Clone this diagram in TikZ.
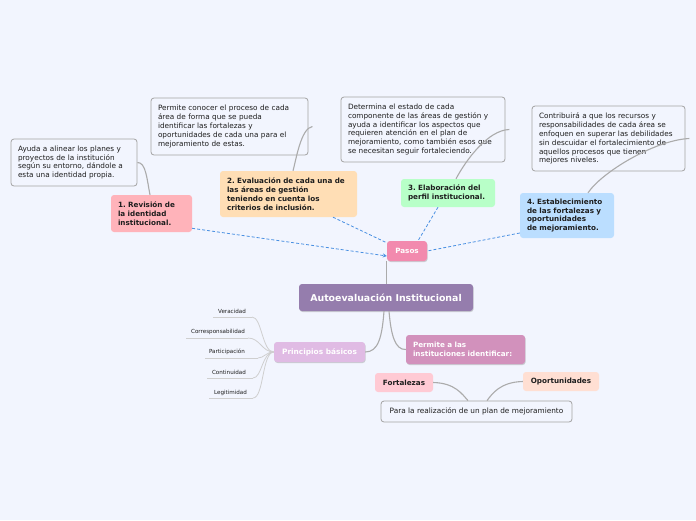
\documentclass[tikz,border=0pt]{standalone}
\usepackage{fontspec}
\setmainfont{DejaVu Sans}
\usetikzlibrary{calc,shadows,arrows.meta}
\frenchspacing
\definecolor{bg}{HTML}{F2F5FE}
\definecolor{txt}{HTML}{1E1E1E}
\definecolor{bord}{HTML}{A3A3A3}
\definecolor{link}{HTML}{ABABAB}
\definecolor{leafl}{HTML}{CFCFCF}
\definecolor{dash}{HTML}{4A90E2}
\definecolor{cone}{HTML}{FFB3BA}
\definecolor{ctwo}{HTML}{FFDEB5}
\definecolor{cthree}{HTML}{B8FFC8}
\definecolor{cfour}{HTML}{BBDEFF}
\definecolor{cpasos}{HTML}{F28AAE}
\definecolor{cauto}{HTML}{957DAD}
\definecolor{cprinc}{HTML}{E0BBE4}
\definecolor{cperm}{HTML}{D291BC}
\definecolor{cfort}{HTML}{FFCAD4}
\definecolor{coport}{HTML}{FFDFD3}
\tikzset{
  textbox/.style={draw=bord, line width=0.8pt, rounded corners=3pt, fill=bg,
    align=left, inner xsep=0pt, inner ysep=0pt, text=txt,
    font=\fontsize{7.3}{8.9}\selectfont},
  topic/.style={rounded corners=3pt, align=left, inner sep=0pt, text=txt,
    font=\fontsize{7.2}{8.9}\selectfont\bfseries},
  main/.style={rounded corners=3pt, align=center, inner sep=0pt, text=white,
    font=\bfseries, drop shadow={opacity=0.35, shadow xshift=0.6pt, shadow yshift=-1pt}},
  leaf/.style={inner sep=0pt, text=txt, font=\fontsize{5.6}{6.5}\selectfont},
  greyline/.style={draw=link, line width=1.1pt},
  leafline/.style={draw=leafl, line width=0.8pt},
  dashline/.style={draw=dash, line width=0.8pt, dash pattern=on 3pt off 2pt},
}
\begin{document}
\begin{tikzpicture}[x=1pt,y=-1pt]
\fill[bg] (0,0) rectangle (696,520);
\useasboundingbox (0,0) rectangle (696,520);

% text boxes
\node[textbox, minimum width=126pt, minimum height=47pt, text width=112pt] (ayuda) at (74,162.5)
 {Ayuda a alinear los planes y\\proyectos de la institución\\según su entorno, dándole a\\esta una identidad propia.};
\node[textbox, minimum width=157pt, minimum height=57pt, text width=143pt] (conocer) at (229.5,126.5)
 {Permite conocer el proceso de cada\\área de forma que se pueda\\identificar las fortalezas y\\oportunidades de cada una para el\\mejoramiento de estas.};
\node[textbox, minimum width=164pt, minimum height=65pt, text width=150pt] (determina) at (423,129.5)
 {Determina el estado de cada\\componente de las áreas de gestión y\\ayuda a identificar los aspectos que\\requieren atención en el plan de\\mejoramiento, como también esos que\\se necesitan seguir fortaleciendo.};
\node[textbox, minimum width=153pt, minimum height=65pt, text width=139pt] (contrib) at (608.5,138.5)
 {Contribuirá a que los recursos y\\responsabilidades de cada área se\\enfoquen en superar las debilidades\\sin descuidar el fortalecimiento de\\aquellos procesos que tienen\\mejores niveles.};

% numbered topics
\node[topic, fill=cone, minimum width=81pt, minimum height=37pt, text width=67pt] (n1) at (151.5,213.5)
 {1. Revisión de\\la identidad\\institucional.};
\node[topic, fill=ctwo, minimum width=137pt, minimum height=46pt, text width=123pt] (n2) at (288.5,194)
 {2. Evaluación de cada una de\\las áreas de gestión\\teniendo en cuenta los\\criterios de inclusión.};
\node[topic, fill=cthree, minimum width=94pt, minimum height=28pt, text width=80pt] (n3) at (448,193)
 {3. Elaboración del\\perfil institucional.};
\node[topic, fill=cfour, minimum width=94pt, minimum height=45pt, text width=80pt] (n4) at (567,215.5)
 {4. Establecimiento\\de las fortalezas y\\oportunidades\\de mejoramiento.};

% main nodes
\node[main, fill=cpasos, minimum width=40pt, minimum height=20pt, font=\fontsize{7.2}{8}\selectfont\bfseries] (pasos) at (407,251) {Pasos};
\node[main, fill=cauto, minimum width=174pt, minimum height=27pt, font=\fontsize{9.4}{11}\selectfont\bfseries] (auto) at (386,297.5) {Autoevaluación Institucional};
\node[main, fill=cprinc, minimum width=91pt, minimum height=20pt, font=\fontsize{7.4}{8}\selectfont\bfseries] (princ) at (319.5,352) {Principios básicos};
\node[main, fill=cperm, minimum width=119pt, minimum height=29pt, text width=105pt, align=left, font=\fontsize{7.2}{8.9}\selectfont\bfseries] (permite) at (465.5,349.5) {Permite a las\\instituciones identificar:};

\node[topic, fill=cfort, minimum width=58pt, minimum height=19pt, align=center] (fort) at (404,382.5) {Fortalezas};
\node[topic, fill=coport, minimum width=76pt, minimum height=19pt, align=center] (oport) at (561,381.5) {Oportunidades};
\node[textbox, minimum width=191pt, minimum height=21pt, align=center, font=\fontsize{7.35}{9}\selectfont] (para) at (476.5,411.5) {Para la realización de un plan de mejoramiento};

% leaves
\coordinate (v0) at (213,317); \coordinate (v1) at (252,317);
\coordinate (c0) at (186,338); \coordinate (c1) at (248,338);
\coordinate (p0) at (205,358); \coordinate (p1) at (258,358);
\coordinate (t0) at (207,378); \coordinate (t1) at (253,378);
\coordinate (l0) at (209,398); \coordinate (l1) at (253,398);
\node[leaf] (lv) at (232,311) {Veracidad};
\node[leaf] (lc) at (218,331.5) {Corresponsabilidad};
\node[leaf] (lp) at (227,352) {Participación};
\node[leaf] (lt) at (229,372.5) {Continuidad};
\node[leaf] (ll) at (230.5,393) {Legitimidad};
\draw[leafline] (v0) -- (v1);
\draw[leafline] (c0) -- (c1);
\draw[leafline] (p0) -- (p1);
\draw[leafline] (t0) -- (t1);
\draw[leafline] (l0) -- (l1);
\draw[leafline] (princ.west) .. controls (262,352) and (262,317) .. (v1);
\draw[leafline] (princ.west) .. controls (262,352) and (260,338) .. (c1);
\draw[leafline] (princ.west) .. controls (266,352) and (264,358) .. (p1);
\draw[leafline] (princ.west) .. controls (262,352) and (262,378) .. (t1);
\draw[leafline] (princ.west) .. controls (262,352) and (264,398) .. (l1);

% grey connectors
\draw[greyline] (ayuda.east) .. controls (146,162) and (147,180) .. ($(n1.north)+(-1.5,0)$);
\draw[greyline] ($(conocer.east)+(4,0)$) .. controls (301,128) and (296,160) .. ($(n2.north)+(4.5,0)$);
\draw[greyline] ($(determina.east)+(4,0)$) .. controls (488,130) and (466,160) .. ($(n3.north)+(8,0)$);
\draw[greyline] ($(contrib.east)+(4,0)$) .. controls (655,140) and (602,172) .. ($(n4.north)+(21,0)$);
\draw[greyline] (pasos.south west) -- (pasos.south west |- auto.north);
\draw[greyline] ($(auto.south)+(-2,0)$) .. controls (382,338) and (378,352) .. (princ.east);
\draw[greyline] ($(auto.south)+(3,0)$) .. controls (391,335) and (395,350) .. (permite.west);
\draw[greyline] (fort.east) .. controls (455,383) and (462,394) .. ($(para.north)+(-8.5,0)$);
\draw[greyline] (oport.west) .. controls (500,382) and (492,394) .. ($(para.north)+(10.5,0)$);

% dashed connectors
\draw[dashline, -{Stealth[length=4pt,width=4pt]}] (n1.-20) -- ($(pasos.west)+(0,5)$);
\draw[dashline] ($(n2.south)+(44.5,0)$) -- ($(pasos.north west)+(0,2)$);
\draw[dashline] ($(n3.south)+(-10,0)$) -- ($(pasos.north)+(11,0)$);
\draw[dashline] ($(n4.west)+(0,17.5)$) -- (pasos.east);
\end{tikzpicture}
\end{document}
